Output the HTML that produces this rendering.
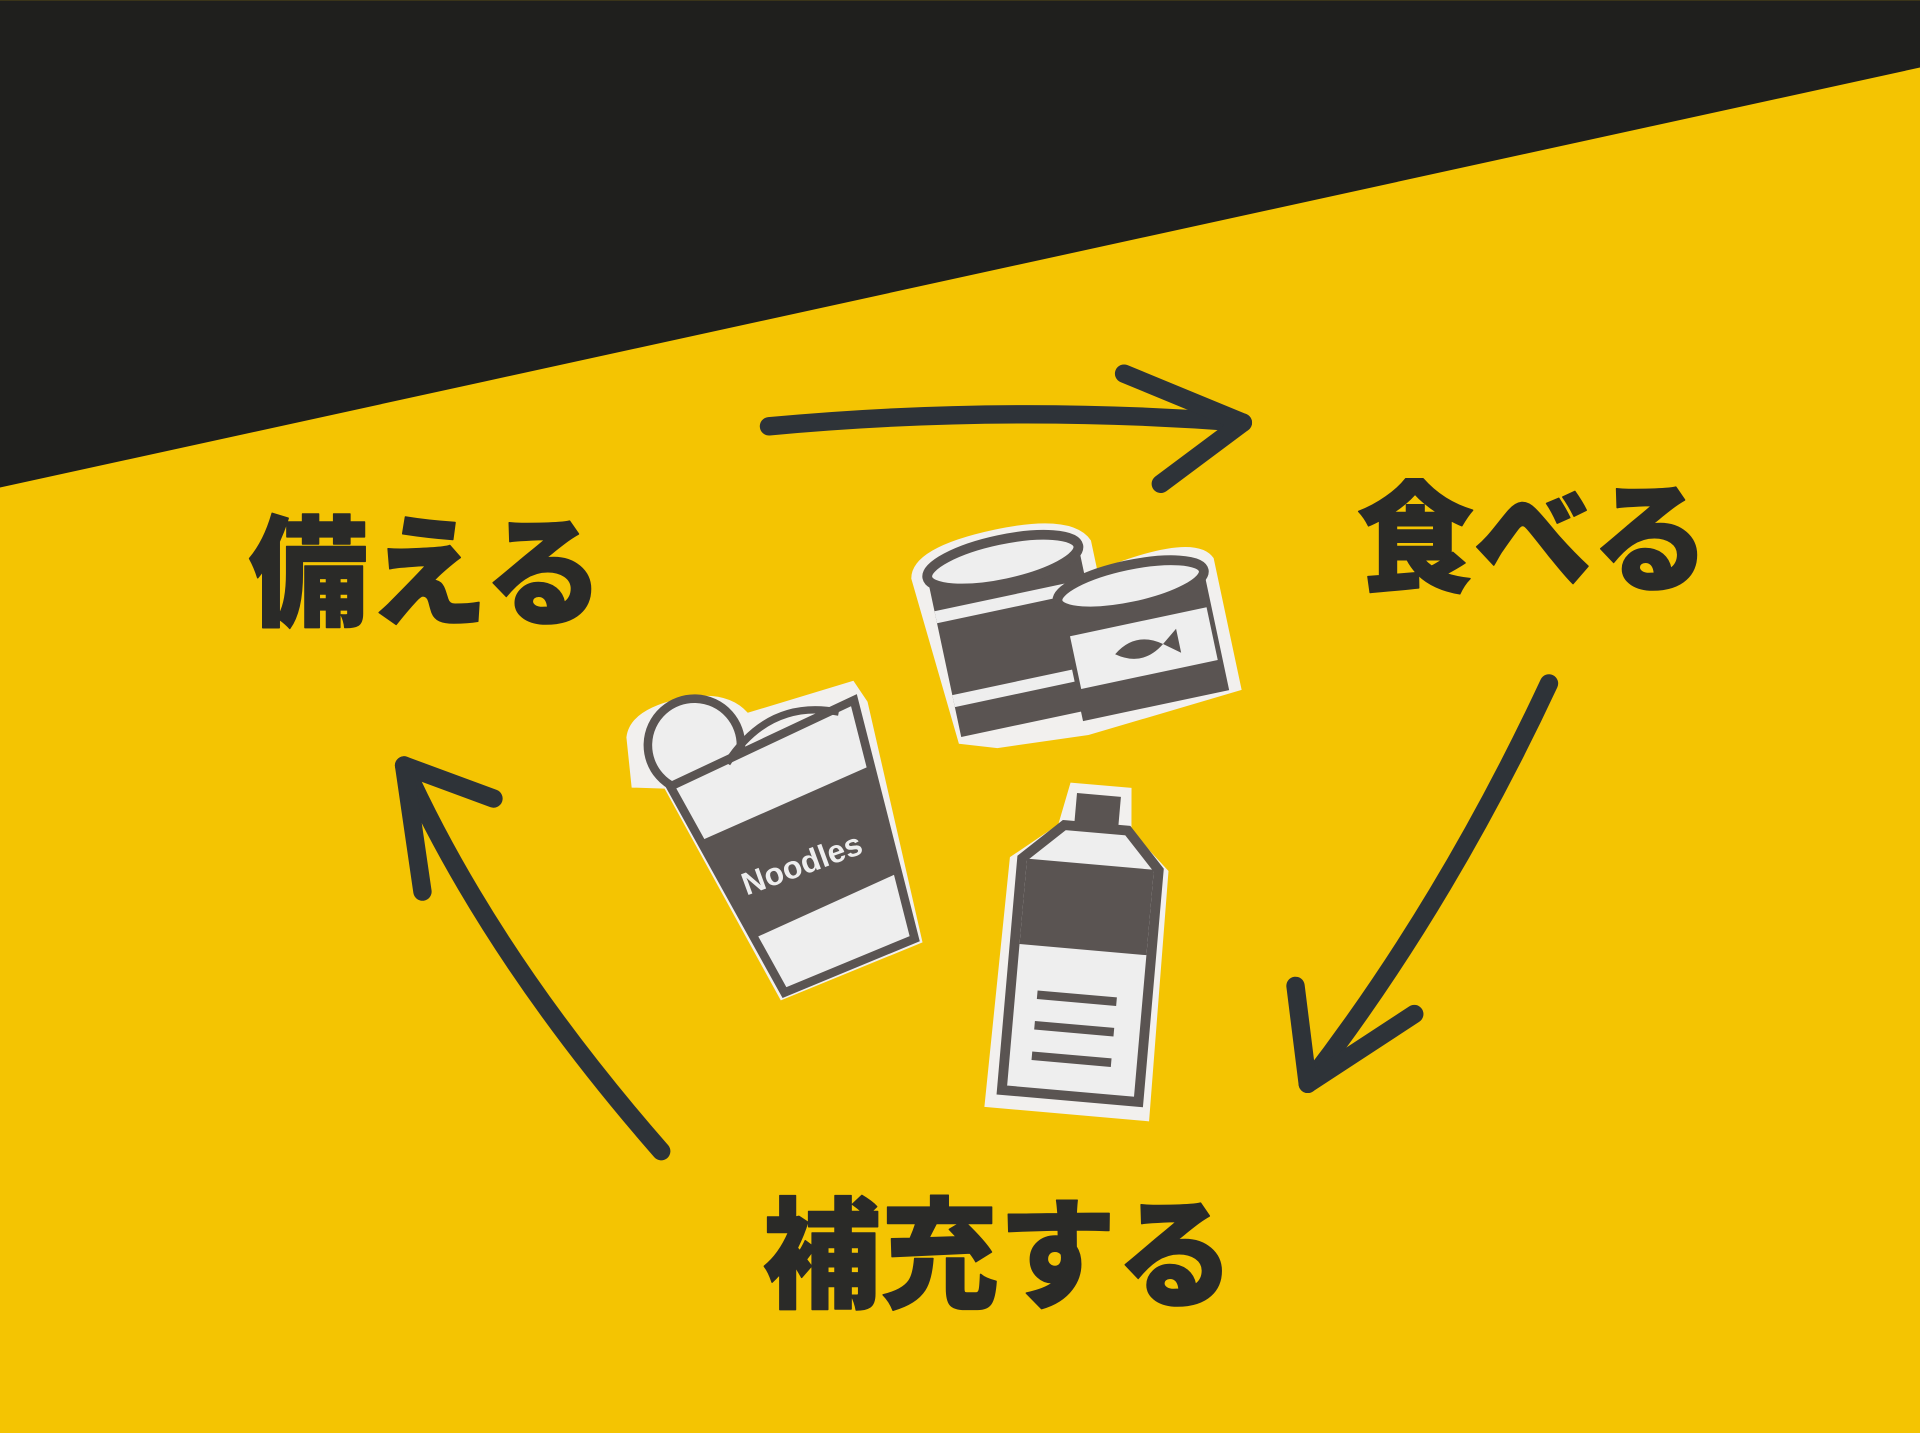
<!DOCTYPE html>
<html><head><meta charset="utf-8"><style>
html,body{margin:0;padding:0;width:1920px;height:1433px;overflow:hidden;background:#f3c300}
svg{display:block}
.t{font-family:"Liberation Sans","Noto Sans CJK JP",sans-serif;font-weight:900;fill:#2a2a28;stroke:#2a2a28;stroke-width:1.2;stroke-linejoin:round}
</style></head><body>
<svg width="1920" height="1433" viewBox="0 0 1568 1170" xmlns="http://www.w3.org/2000/svg">
<rect width="1568" height="1170" fill="#f4c402"/>
<polygon points="0,0 1568,0 1568,55 0,398" fill="#1f1f1d"/>
<g stroke="#2e3338" stroke-width="15" fill="none" stroke-linecap="round" stroke-linejoin="round">
<path d="M628,348 Q820,330 1015,345"/>
<path d="M918,305 L1015,345 L948,395"/>
<path d="M1265,558 Q1180,740 1068,885"/>
<path d="M1058,805 L1068,885 L1155,828"/>
<path d="M540,940 Q400,780 330,625"/>
<path d="M345,728 L330,625 L403,652"/>
</g>
<text class="t" x="203" y="503" font-size="98" textLength="290" lengthAdjust="spacingAndGlyphs">備える</text>
<text class="t" x="1108" y="475" font-size="98" textLength="288" lengthAdjust="spacingAndGlyphs">食べる</text>
<text class="t" x="623" y="1060" font-size="98" textLength="385" lengthAdjust="spacingAndGlyphs">補充する</text>
<g transform="rotate(-12 880 510)">
<path d="M755,445 Q760,420 830,420 Q895,420 905,445 L905,470 Q990,455 1000,480 L1000,590 L870,600 L795,595 L765,585 Z" fill="#f2f0ee"/>
<rect x="768" y="445" width="126" height="135" fill="#5a5452"/>
<rect x="768" y="475" width="126" height="10" fill="#eee"/>
<rect x="768" y="545" width="126" height="10" fill="#eee"/>
<ellipse cx="831" cy="447" rx="63" ry="18" fill="#eee" stroke="#5a5452" stroke-width="8"/>
<rect x="868" y="485" width="122" height="103" fill="#5a5452"/>
<ellipse cx="929" cy="488" rx="61" ry="17" fill="#eee" stroke="#5a5452" stroke-width="8"/>
<rect x="872" y="518" width="114" height="44" fill="#eee"/>
<path d="M905,540 Q925,525 945,540 Q925,555 905,540 Z M945,540 L958,530 L958,550 Z" fill="#5a5452"/>
</g>
<g transform="rotate(-20 650 690)">
<path d="M550,560 Q560,540 600,545 Q640,550 650,575 L740,580 L745,600 L720,800 L595,805 L565,610 L540,600 Z" fill="#f2f0ee"/>
<circle cx="600" cy="585" r="38" fill="#eee" stroke="#5a5452" stroke-width="7"/>
<polygon points="570,610 735,595 715,795 600,800" fill="#eee" stroke="#5a5452" stroke-width="7"/>
<path d="M620,608 Q670,570 720,600" stroke="#5a5452" stroke-width="6" fill="none"/>
<polygon points="578,660 728,650 720,740 590,750" fill="#5a5452"/>
<text x="598" y="715" font-size="26" font-weight="700" font-family="Liberation Sans,sans-serif" fill="#eee">Noodles</text>
</g>
<g transform="rotate(5 880 780)">
<path d="M862,640 L912,640 L915,675 L948,705 L950,910 L815,910 L818,705 L855,675 Z" fill="#f2f0ee"/>
<rect x="868" y="648" width="36" height="27" fill="#5a5452"/>
<path d="M860,675 L912,675 L940,705 L940,895 L828,895 L828,705 Z" fill="#eee" stroke="#5a5452" stroke-width="8"/>
<rect x="832" y="705" width="104" height="70" fill="#5a5452"/>
<g stroke="#5a5452" stroke-width="7"><line x1="850" y1="815" x2="915" y2="815"/><line x1="850" y1="840" x2="915" y2="840"/><line x1="850" y1="865" x2="915" y2="865"/></g>
</g>
</svg>
</body></html>
